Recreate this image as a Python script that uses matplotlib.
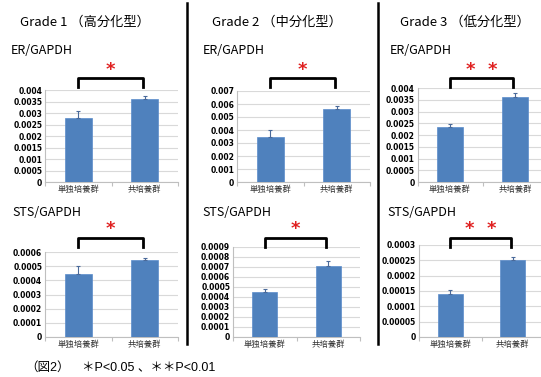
import numpy as np
import matplotlib
matplotlib.use('Agg')
from matplotlib import pyplot as plt
from matplotlib.lines import Line2D
from matplotlib.ticker import FuncFormatter, MultipleLocator
from matplotlib.transforms import blended_transform_factory

plt.rcParams['font.family'] = ['Noto Sans CJK JP', 'DejaVu Sans']

# data
categories = ['単独培養群', '共培養群']
grades = ['Grade 1 （高分化型）', 'Grade 2 （中分化型）', 'Grade 3 （低分化型）']
er_mean = [[0.0028, 0.0036], [0.0035, 0.0056], [0.00235, 0.0036]]
er_err = [[0.0003, 0.00015], [0.0005, 0.00025], [0.0001, 0.0002]]
sts_mean = [[0.000445, 0.000545], [0.000455, 0.00071], [0.00014, 0.00025]]
sts_err = [[0.000055, 0.00001], [0.000025, 0.00005], [0.000012, 0.00001]]
er_ymax = [0.004, 0.007, 0.004]
er_step = [0.0005, 0.001, 0.0005]
sts_ymax = [0.0006, 0.0009, 0.0003]
sts_step = [0.0001, 0.0001, 0.00005]
marks = ['*', '*', '*  *']

W, H = 541, 377
fig = plt.figure(figsize=(W / 100, H / 100), dpi=100)

# layout in pixels: left, right, top, zero line
top_boxes = [(45, 178, 90, 182), (237, 370, 91, 182), (417.5, 547.5, 88, 182)]
bot_boxes = [(45, 178, 252, 337), (233, 360, 247, 337), (419, 544, 245, 337)]
title_x = [20, 212, 400]
er_x = [11, 203, 390]
sts_x = [12, 202, 387]

blue = '#4f81bd'
grid = '#d9d9d9'


def fmt(v, pos):
    if abs(v) < 1e-12:
        return '0'
    return ('%.5f' % v).rstrip('0').rstrip('.')


def panel(box, means, errs, ymax, step, mark, br_y, star_y):
    l, r, t, z = box
    ax = fig.add_axes([l / W, 1 - z / H, (r - l) / W, (z - t) / H])
    x = np.arange(len(categories))
    ax.bar(x, means, width=0.4, color=blue, edgecolor='#5b8ccb', linewidth=0.5, zorder=3)
    ax.errorbar(x, means, yerr=[[0] * len(errs), errs], fmt='none',
                ecolor='#4a6a9a', elinewidth=0.8, capsize=1.5, capthick=0.8, zorder=4)
    ax.set_xlim(-0.5, 1.5)
    ax.set_ylim(0, ymax)
    ax.yaxis.set_major_locator(MultipleLocator(step))
    ax.yaxis.set_major_formatter(FuncFormatter(fmt))
    ax.grid(axis='y', color=grid, linewidth=0.8, zorder=0)
    ax.set_axisbelow(True)
    for s in ['top', 'right']:
        ax.spines[s].set_visible(False)
    for s in ['left', 'bottom']:
        ax.spines[s].set_color('#bfbfbf')
        ax.spines[s].set_linewidth(0.8)
    ax.set_xticks(x)
    ax.set_xticklabels(categories, fontsize=6, color='#333333')
    ax.set_xticks([-0.5, 0.5, 1.5], minor=True)
    ax.tick_params(axis='x', which='major', length=0, pad=2)
    ax.tick_params(axis='x', which='minor', length=3, color='#bfbfbf', width=0.8)
    ax.tick_params(axis='y', length=0, pad=2, labelsize=5.5)
    for lab in ax.get_yticklabels():
        lab.set_fontweight('bold')
        lab.set_family('DejaVu Sans')
    # significance bracket
    tr = blended_transform_factory(ax.transData, fig.transFigure)
    ax.add_line(Line2D([0, 0, 0.97, 0.97],
                       [1 - (br_y + 9) / H, 1 - br_y / H, 1 - br_y / H, 1 - (br_y + 9) / H],
                       transform=tr, color='black', linewidth=2, clip_on=False))
    ax.text(0.485, 1 - (star_y + 3) / H, mark, transform=tr, color='#e02020',
            fontsize=13, fontweight='bold', family='DejaVu Sans',
            ha='center', va='center', clip_on=False)
    return ax


for i in range(3):
    panel(top_boxes[i], er_mean[i], er_err[i], er_ymax[i], er_step[i], marks[i], 78, 67)
    panel(bot_boxes[i], sts_mean[i], sts_err[i], sts_ymax[i], sts_step[i], marks[i], 237.5, 226)
    fig.text(title_x[i] / W, 1 - 22 / H, grades[i], fontsize=9.5, va='center', ha='left')
    fig.text(er_x[i] / W, 1 - 50 / H, 'ER/GAPDH', fontsize=9, va='center', ha='left')
    fig.text(sts_x[i] / W, 1 - 213 / H, 'STS/GAPDH', fontsize=9, va='center', ha='left')

# separators between grades
for sx in [187, 378]:
    fig.add_artist(Line2D([sx / W, sx / W], [1 - 3 / H, 1 - 344 / H],
                          transform=fig.transFigure, color='black', linewidth=1.8))

foot = ['Liberation Sans', 'Noto Sans CJK JP']
fig.text(25 / W, 1 - 368 / H, '（図2）', fontsize=9, family=foot, va='center', ha='left')
fig.text(82 / W, 1 - 368 / H, '＊P<0.05 、＊＊P<0.01', fontsize=9, family=foot,
         va='center', ha='left')

fig.savefig('out.png', dpi=100)
